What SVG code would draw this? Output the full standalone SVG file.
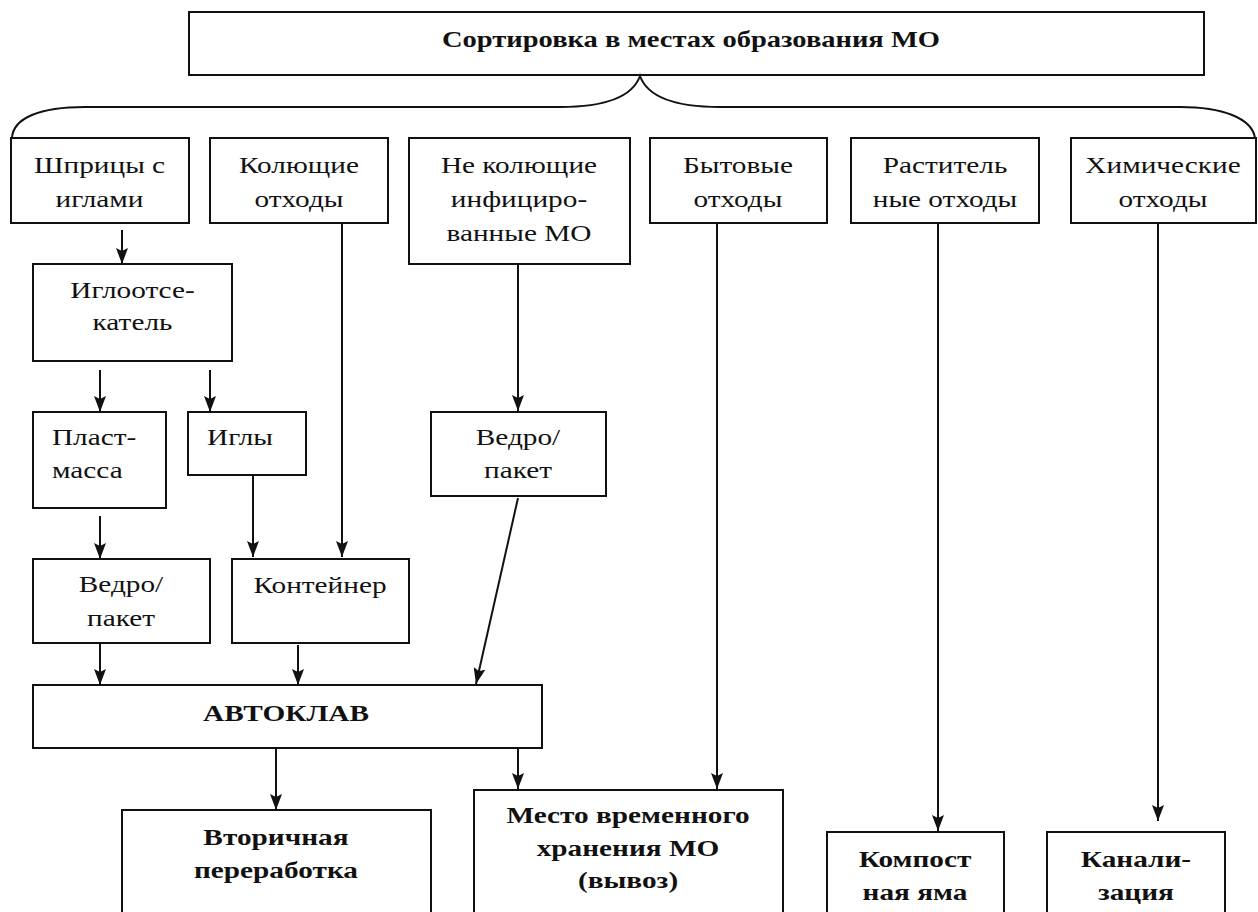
<svg xmlns="http://www.w3.org/2000/svg" width="1258" height="912" viewBox="0 0 1258 912">
<style>
.box{fill:#fff;stroke:#111;stroke-width:2}
.t{font-family:"Liberation Serif","Times New Roman",serif;font-size:24px;fill:#111;text-anchor:middle}
.l{text-anchor:start}
.b{font-weight:bold}
.c{fill:none;stroke:#111;stroke-width:2}
</style>
<defs>
<marker id="ah" viewBox="0 0 16 12" refX="16" refY="6" markerWidth="16" markerHeight="12" markerUnits="userSpaceOnUse" orient="auto">
<path d="M0,0 L16,6 L0,12 L3,6 z" fill="#111"/>
</marker>
</defs>
<rect width="1258" height="912" fill="#fff"/>

<g id="top">
<rect class="box" x="189" y="12" width="1015" height="63"/>
<text class="t b" x="691" y="47" font-size="21" textLength="498" lengthAdjust="spacingAndGlyphs">Сортировка в местах образования МО</text>
</g>

<g id="connectors">
<path class="c" d="M12,138 C13,118 40,107 85,107 L560,107 C602,107 632,98 640,76 C648,98 678,107 720,107 L1180,107 C1222,107 1252,118 1255,138"/>
<path class="c" marker-end="url(#ah)" d="M122,230 V264"/>
<path class="c" marker-end="url(#ah)" d="M100,370 V412"/>
<path class="c" marker-end="url(#ah)" d="M210,370 V412"/>
<path class="c" marker-end="url(#ah)" d="M342,223 V557"/>
<path class="c" marker-end="url(#ah)" d="M253,475 V557"/>
<path class="c" marker-end="url(#ah)" d="M100,516 V559"/>
<path class="c" marker-end="url(#ah)" d="M518,264 V411"/>
<path class="c" marker-end="url(#ah)" d="M518,498 L476,684"/>
<path class="c" marker-end="url(#ah)" d="M100,643 V685"/>
<path class="c" marker-end="url(#ah)" d="M298,645 V685"/>
<path class="c" marker-end="url(#ah)" d="M276,748 V810"/>
<path class="c" marker-end="url(#ah)" d="M518,748 V789"/>
<path class="c" marker-end="url(#ah)" d="M717,223 V789"/>
<path class="c" marker-end="url(#ah)" d="M938,223 V831"/>
<path class="c" marker-end="url(#ah)" d="M1158,223 V821"/>
</g>

<g id="n-shpricy">
<rect class="box" x="11" y="138" width="178" height="85"/>
<text class="t" transform="scale(1.22,1)" x="81.6" y="173">Шприцы с</text>
<text class="t" transform="scale(1.22,1)" x="81.6" y="207">иглами</text>
</g>
<g id="n-kolyushchie">
<rect class="box" x="210" y="138" width="178" height="85"/>
<text class="t" transform="scale(1.22,1)" x="245.1" y="173">Колющие</text>
<text class="t" transform="scale(1.22,1)" x="245.1" y="207">отходы</text>
</g>
<g id="n-nekolyushchie">
<rect class="box" x="409" y="138" width="221" height="126"/>
<text class="t" transform="scale(1.22,1)" x="425.4" y="173">Не колющие</text>
<text class="t" transform="scale(1.22,1)" x="425.4" y="207">инфициро-</text>
<text class="t" transform="scale(1.22,1)" x="425.4" y="241">ванные МО</text>
</g>
<g id="n-bytovye">
<rect class="box" x="650" y="138" width="177" height="85"/>
<text class="t" transform="scale(1.22,1)" x="604.9" y="173">Бытовые</text>
<text class="t" transform="scale(1.22,1)" x="604.9" y="207">отходы</text>
</g>
<g id="n-rastitel">
<rect class="box" x="851" y="138" width="188" height="85"/>
<text class="t" transform="scale(1.22,1)" x="774.6" y="173">Раститель</text>
<text class="t" transform="scale(1.22,1)" x="774.6" y="207">ные отходы</text>
</g>
<g id="n-himicheskie">
<rect class="box" x="1071" y="138" width="185" height="85"/>
<text class="t" transform="scale(1.22,1)" x="953.3" y="173">Химические</text>
<text class="t" transform="scale(1.22,1)" x="953.3" y="207">отходы</text>
</g>

<g id="n-igloots">
<rect class="box" x="33" y="264" width="199" height="97"/>
<text class="t" transform="scale(1.22,1)" x="108.6" y="298">Иглоотсе-</text>
<text class="t" transform="scale(1.22,1)" x="108.6" y="330">катель</text>
</g>
<g id="n-plast">
<rect class="box" x="33" y="412" width="133" height="96"/>
<text class="t l" transform="scale(1.22,1)" x="42.6" y="445">Пласт-</text>
<text class="t l" transform="scale(1.22,1)" x="42.6" y="478">масса</text>
</g>
<g id="n-igly">
<rect class="box" x="188" y="412" width="118" height="63"/>
<text class="t l" transform="scale(1.22,1)" x="169.7" y="445">Иглы</text>
</g>
<g id="n-vedro2">
<rect class="box" x="431" y="412" width="175" height="84"/>
<text class="t" transform="scale(1.22,1)" x="424.6" y="445">Ведро/</text>
<text class="t" transform="scale(1.22,1)" x="424.6" y="478">пакет</text>
</g>
<g id="n-vedro1">
<rect class="box" x="33" y="559" width="177" height="84"/>
<text class="t" transform="scale(1.22,1)" x="99.2" y="592">Ведро/</text>
<text class="t" transform="scale(1.22,1)" x="99.2" y="626">пакет</text>
</g>
<g id="n-kontejner">
<rect class="box" x="232" y="559" width="177" height="84"/>
<text class="t" transform="scale(1.22,1)" x="262.3" y="593">Контейнер</text>
</g>
<g id="n-avtoklav">
<rect class="box" x="33" y="685" width="509" height="63"/>
<text class="t b" transform="scale(1.22,1)" x="234.4" y="721">АВТОКЛАВ</text>
</g>
<g id="n-vtorichnaya">
<rect class="box" x="122" y="810" width="309" height="120"/>
<text class="t b" transform="scale(1.22,1)" x="226.2" y="845">Вторичная</text>
<text class="t b" transform="scale(1.22,1)" x="226.2" y="878">переработка</text>
</g>
<g id="n-mesto">
<rect class="box" x="474" y="790" width="309" height="140"/>
<text class="t b" transform="scale(1.22,1)" x="514.8" y="823">Место временного</text>
<text class="t b" transform="scale(1.22,1)" x="514.8" y="856">хранения МО</text>
<text class="t b" transform="scale(1.22,1)" x="514.8" y="888">(вывоз)</text>
</g>
<g id="n-kompost">
<rect class="box" x="827" y="832" width="177" height="100"/>
<text class="t b" transform="scale(1.22,1)" x="750" y="867">Компост</text>
<text class="t b" transform="scale(1.22,1)" x="750" y="900">ная яма</text>
</g>
<g id="n-kanal">
<rect class="box" x="1047" y="832" width="178" height="100"/>
<text class="t b" transform="scale(1.22,1)" x="931.1" y="867">Канали-</text>
<text class="t b" transform="scale(1.22,1)" x="931.1" y="900">зация</text>
</g>
</svg>
